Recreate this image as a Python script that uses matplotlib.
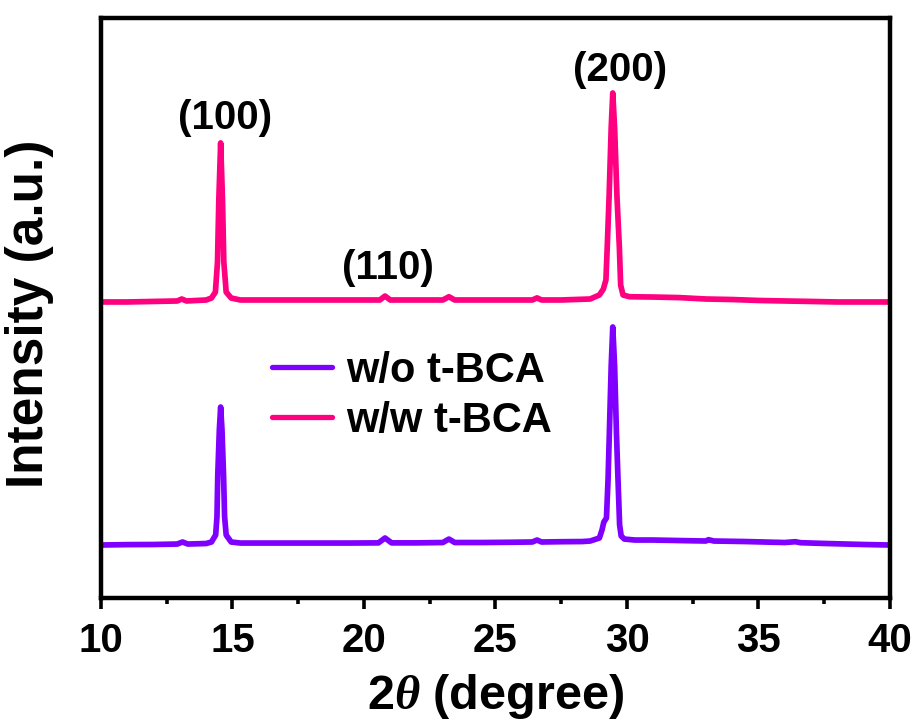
import matplotlib
matplotlib.use('Agg')
import matplotlib.pyplot as plt
from matplotlib.ticker import MultipleLocator
import numpy as np

plt.rcParams['font.family'] = ['Liberation Sans', 'DejaVu Sans']
plt.rcParams['font.weight'] = 'bold'
plt.rcParams['mathtext.fontset'] = 'custom'
plt.rcParams['mathtext.it'] = 'Liberation Serif:italic'

# XRD patterns, 2theta (deg) vs intensity (a.u.)
tt_wo = [10.0, 11.0, 12.0, 12.9, 13.1, 13.3, 14.0, 14.2, 14.36, 14.41, 14.44, 14.50,
         14.55, 14.60, 14.66, 14.70, 14.76, 14.95, 15.3, 16.5, 18.0, 19.5, 20.55, 20.8,
         21.05, 22.0, 23.0, 23.23, 23.45, 24.5, 25.5, 26.4, 26.58, 26.75, 27.5, 28.3,
         28.6, 28.95, 29.05, 29.12, 29.22, 29.28, 29.33, 29.40, 29.46, 29.53, 29.60,
         29.66, 29.72, 29.78, 29.9, 30.3, 31.0, 32.0, 33.0, 33.1, 33.3, 34.5, 36.0,
         36.4, 36.6, 37.5, 39.0, 40.0]
I_wo = [91.3, 92.0, 92.2, 93.0, 96.5, 93.0, 93.9, 96.5, 108.5, 140.0, 211.9, 290.0,
        329.0, 290.0, 211.9, 140.0, 108.5, 96.5, 94.7, 94.7, 94.7, 94.7, 95.0, 103.4,
        95.0, 95.0, 95.6, 101.6, 95.6, 95.6, 96.0, 96.5, 99.9, 96.5, 97.0, 97.3,
        98.2, 103.4, 117.1, 130.9, 137.8, 203.3, 284.2, 400.0, 466.9, 400.0, 284.2,
        203.3, 125.8, 106.8, 101.6, 99.9, 99.9, 99.0, 98.2, 100.5, 98.2, 97.3, 95.6,
        97.0, 95.3, 94.0, 92.2, 91.3]

tt_ww = [10.0, 11.0, 12.0, 12.9, 13.07, 13.25, 14.0, 14.2, 14.35, 14.43, 14.48, 14.55,
         14.62, 14.67, 14.76, 14.95, 15.3, 16.5, 18.0, 19.5, 20.6, 20.8, 21.0, 22.0,
         23.0, 23.23, 23.45, 24.5, 25.5, 26.4, 26.58, 26.75, 27.5, 28.0, 28.6, 28.95,
         29.1, 29.2, 29.25, 29.32, 29.40, 29.46, 29.53, 29.62, 29.71, 29.76, 29.85,
         30.1, 31.0, 32.0, 33.0, 34.0, 35.0, 36.0, 37.0, 38.0, 40.0]
I_ww = [90.0, 90.0, 90.9, 91.7, 95.1, 91.7, 93.4, 96.8, 107.0, 159.0, 266.0, 364.0,
        266.0, 159.0, 107.0, 96.8, 93.4, 93.4, 93.4, 93.4, 93.4, 100.2, 93.4, 93.4,
        93.4, 99.0, 93.4, 93.4, 93.4, 93.4, 97.0, 93.4, 93.4, 94.2, 95.1, 102.0,
        112.0, 128.0, 185.0, 271.0, 390.0, 450.0, 390.0, 271.0, 185.0, 119.0, 102.0,
        99.0, 98.5, 97.5, 95.1, 94.2, 92.6, 91.7, 90.9, 90.0, 90.0]

offset = 420   # vertical shift of the w/w pattern

planes = ['(100)', '(110)', '(200)']
plane_x = [14.71, 20.91, 29.73]
plane_y = [827, 568, 909]

fig = plt.figure(figsize=(9.19, 7.24), dpi=100)
ax = fig.add_axes([0.1099, 0.174, 0.8585, 0.8018])

ax.plot(tt_wo, I_wo, color='#8000ff', lw=4.1, solid_joinstyle='round', label='w/o t-BCA')
ax.plot(tt_ww, np.array(I_ww) + offset, color='#ff0080', lw=4.1, solid_joinstyle='round',
        label='w/w t-BCA')

for s, x, y in zip(planes, plane_x, plane_y):
    ax.text(x, y, s, fontsize=29, fontweight='bold', ha='center', va='center')

ax.set_xlim(10, 40)
ax.set_ylim(0, 1000)
ax.xaxis.set_major_locator(MultipleLocator(5))
ax.xaxis.set_minor_locator(MultipleLocator(2.5))
ax.set_yticks([])
ax.tick_params(axis='x', which='major', direction='out', length=8, width=2.6, pad=9,
               labelsize=29)
ax.tick_params(axis='x', which='minor', direction='out', length=4.5, width=2.6)
for lbl in ax.get_xticklabels():
    lbl.set_fontweight('bold')
for sp in ax.spines.values():
    sp.set_linewidth(3.2)

ax.set_xlabel(r'2$\mathit{\theta}$ (degree)', fontsize=35, fontweight='bold', labelpad=9)
ax.set_ylabel('Intensity (a.u.)', fontsize=37, fontweight='bold', labelpad=32)
ax.yaxis.set_label_coords(-0.06, 0.49)

leg = ax.legend(loc='upper left', bbox_to_anchor=(0.195, 0.455), frameon=False,
                prop={'size': 30, 'weight': 'bold'}, handlelength=1.45,
                handletextpad=0.35, labelspacing=0.25, borderaxespad=0)
for h in leg.get_lines():
    h.set_linewidth(3.8)
    h.set_solid_capstyle('round')

fig.savefig('out.png', dpi=100)
